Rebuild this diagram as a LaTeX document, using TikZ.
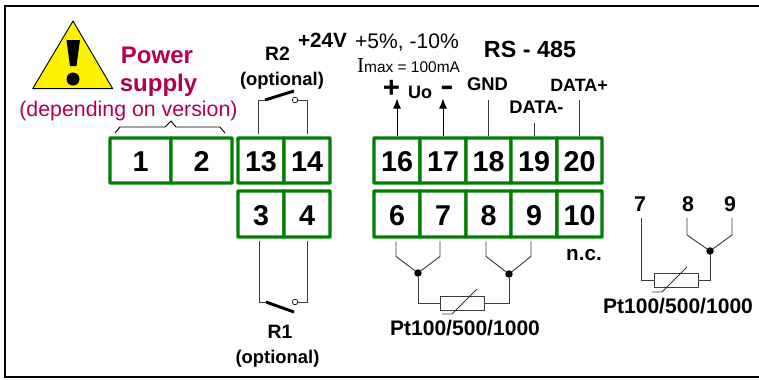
\documentclass[tikz,border=0pt]{standalone}
\usepackage{fontspec}
\setmainfont{Liberation Sans}
\newfontfamily\serifx{Liberation Serif}
\usetikzlibrary{arrows.meta}
\definecolor{tgreen}{RGB}{0,128,0}
\definecolor{pwr}{RGB}{178,0,80}
\definecolor{wirec}{RGB}{60,60,60}
\tikzset{
 termbox/.style={draw=tgreen,line width=2.6pt,fill=white,rounded corners=0.5pt,minimum width=#1*0.75pt,inner sep=0pt,text height=17.2pt,text depth=0pt,font=\bfseries\fontsize{21.5}{21.5}\selectfont},
 toprow/.style={minimum height=33.75pt},
 botrow/.style={minimum height=34.5pt},
 wire/.style={draw=wirec,line width=0.7pt},
 txt/.style={anchor=base,inner sep=0pt,font=\bfseries\fontsize{#1}{#1}\selectfont},
 txtr/.style={anchor=base,inner sep=0pt,font=\fontsize{#1}{#1}\selectfont},
 dotn/.style={circle,fill=black,inner sep=0pt,minimum size=5.6pt},
 opn/.style={circle,draw=black,fill=white,line width=0.5pt,inner sep=0pt,minimum size=4.2pt},
 rtd/.style={draw=wirec,line width=0.7pt,fill=white,minimum width=33pt,minimum height=11pt,inner sep=0pt},
 contact/.style={line width=2.2pt,draw=black},
 arr/.style={draw=black,line width=0.7pt,-{Latex[length=7.5pt,width=6pt]}},
}
\begin{document}
\begin{tikzpicture}[x=0.75pt,y=-0.75pt]
\useasboundingbox (0,0) rectangle (759,379);
\fill[white] (0,0) rectangle (759,379);
\draw[line width=1.5pt,black] (759,6) -- (5,6) -- (5,377) -- (759,377);
% warning sign
\draw[fill=yellow,line width=0.7pt,line join=round] (73,21) -- (112.7,88.7) -- (32.7,88.7) -- cycle;
\fill[black] (66.5,40) -- (80,40) -- (76.5,66) -- (70,66) -- cycle;
\fill[black] (73,79) circle (6.5);
% power text
\node[txt=18,text=pwr] (power) at (157,63) {Power};
\node[txt=18,text=pwr] (supply) at (158.5,91) {supply};
\node[txtr=16,text=pwr] (dep) at (128.5,116.7) {(depending on version)};
\draw[line width=0.7pt,black] (115,133) -- (120,127) -- (165,127) -- (171,121) -- (176,127) -- (220,127) -- (225,133);
% terminals, top row
\node[termbox=61,toprow] (t1) at (140.5,160.5) {1};
\node[termbox=61,toprow] (t2) at (201.5,160.5) {2};
\node[termbox=46,toprow] (t13) at (261,160.5) {13};
\node[termbox=46,toprow] (t14) at (307,160.5) {14};
\node[termbox=46,toprow] (t16) at (397,160.5) {16};
\node[termbox=46,toprow] (t17) at (443,160.5) {17};
\node[termbox=45,toprow] (t18) at (488.5,160.5) {18};
\node[termbox=46,toprow] (t19) at (534,160.5) {19};
\node[termbox=45,toprow] (t20) at (579.5,160.5) {20};
% terminals, bottom row
\node[termbox=46,botrow] (t3) at (261,214) {3};
\node[termbox=46,botrow] (t4) at (307,214) {4};
\node[termbox=46,botrow] (t6) at (397,214) {6};
\node[termbox=46,botrow] (t7) at (443,214) {7};
\node[termbox=45,botrow] (t8) at (488.5,214) {8};
\node[termbox=46,botrow] (t9) at (534,214) {9};
\node[termbox=45,botrow] (t10) at (579.5,214) {10};
\node[txt=15.5] (nc) at (584,260) {n.c.};
% R2
\node[txt=14.5] (r2lab) at (277.5,60) {R2};
\node[txt=13.8] (r2opt) at (282,85) {(optional)};
\node[opn] (r2o) at (295,100) {};
\coordinate (r2c) at (265,100);
\coordinate (r2e) at (294,91);
\draw[wire] ([xshift=-2.25pt,yshift=1.5pt]t13.north) |- (r2c);
\draw[contact] (r2c) -- (r2e);
\draw[wire] (r2o) -| ([yshift=1.5pt]t14.north);
% R1
\node[txt=14.5] (r1lab) at (280,338) {R1};
\node[txt=13.8] (r1opt) at (277.5,363) {(optional)};
\node[opn] (r1o) at (295,302) {};
\coordinate (r1c) at (266,302);
\coordinate (r1e) at (294,312);
\draw[wire] ([xshift=-1.5pt,yshift=-2pt]t3.south) |- (r1c);
\draw[contact] (r1c) -- (r1e);
\draw[wire] (r1o) -| ([yshift=-2pt]t4.south);
% top labels
\node[txt=15.5] (v24) at (322.5,47) {+24V};
\node[txtr=15.8] (tol) at (407,48) {+5\%, -10\%};
\node[txtr=11.6] (imax) at (408.5,72) {{\serifx\fontsize{16}{16}\selectfont I}max = 100mA};
\node[txt=17.5] (rs) at (530,57) {RS - 485};
\node[txt=22] (plus) at (391.5,97) {+};
\node[txt=13.5] (uo) at (420,98) {Uo};
\node[txt=22] (minus) at (447,95.5) {\scalebox{1.35}[1]{-}};
\node[txt=13.8] (gnd) at (487.5,90) {GND};
\node[txt=13.7] (dm) at (536.5,113) {DATA-};
\node[txt=13.4] (dp) at (579,91) {DATA+};
\draw[arr] ([yshift=0.5pt]t16.north) -- ++(0,-37);
\draw[arr] ([yshift=0.5pt]t17.north) -- ++(0,-37);
\draw[wire] ([yshift=0.5pt]t18.north) -- ++(0,-36);
\draw[wire] ([yshift=0.5pt]t19.north) -- ++(0,-13);
\draw[wire] ([yshift=0.5pt]t20.north) -- ++(0,-36);
% Pt100 on the terminals
\node[dotn] (j1) at (418,273) {};
\node[dotn] (j2) at (509,274) {};
\node[rtd] (rt1) at (462,303.5) {};
\draw[wire] ([xshift=-0.75pt,yshift=-2pt]t6.south) -- ++(0,15) -- (j1);
\draw[wire] ([xshift=-2.25pt,yshift=-2pt]t7.south) -- ++(0,15) -- (j1);
\draw[wire] ([xshift=-1.9pt,yshift=-2pt]t8.south) -- ++(0,15) -- (j2);
\draw[wire] ([xshift=-2.25pt,yshift=-2pt]t9.south) -- ++(0,15) -- (j2);
\draw[wire] (j1) |- (rt1.west);
\draw[wire] (rt1.east) -| (j2);
\draw[wire] (442,314) -- (452,314) -- (477,289);
\node[txt=15.8] (pt1) at (465,335) {Pt100/500/1000};
% separate Pt100 sketch
\node[txt=16] (n7) at (640,211) {7};
\node[txt=16] (n8) at (688,211) {8};
\node[txt=16] (n9) at (730,211) {9};
\coordinate (a7) at (641,218);
\coordinate (a8) at (687,218);
\coordinate (a9) at (732,218);
\node[dotn] (j3) at (710,251) {};
\node[rtd] (rt2) at (676.5,280.5) {};
\draw[wire] (a7) |- (rt2.west);
\draw[wire] (a8) -- ++(0,17) -- (j3);
\draw[wire] (a9) -- ++(0,17) -- (j3);
\draw[wire] (rt2.east) -| (j3);
\draw[wire] (652,292) -- (662,292) -- (687,267);
\node[txt=15.8] (pt2) at (678,313) {Pt100/500/1000};
\end{tikzpicture}
\end{document}
